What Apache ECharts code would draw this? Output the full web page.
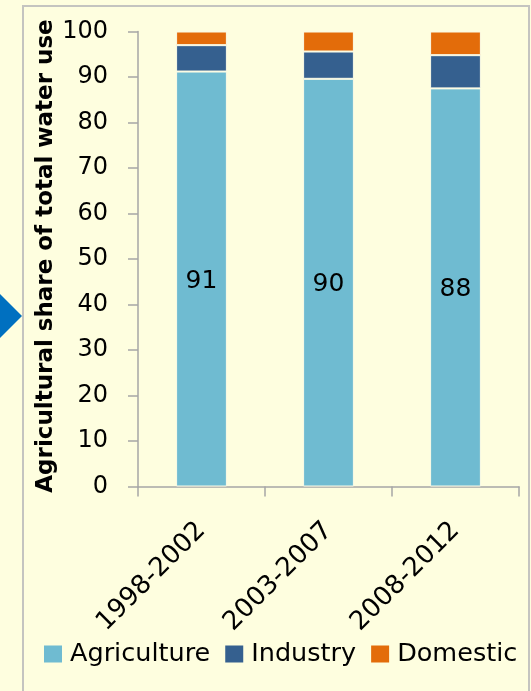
<!DOCTYPE html>
<html>
<head>
<meta charset="utf-8">
<script src="https://cdn.jsdelivr.net/npm/echarts@6/dist/echarts.min.js"></script>
<style>
html,body{margin:0;padding:0;background:#FEFEDF;}
#chart{width:531px;height:691px;}
</style>
</head>
<body>
<div id="chart"></div>
<script>
var categories = ['1998-2002', '2003-2007', '2008-2012'];
var agriculture = [91.2, 89.6, 87.5];
var industry = [5.8, 6.0, 7.3];
var domestic = [3.0, 4.4, 5.2];
var seriesNames = ['Agriculture', 'Industry', 'Domestic'];
var yTicks = { min: 0, max: 100, interval: 10 };
var yTitle = 'Agricultural share of total water use';

var FONT = 'DejaVu Sans';
var colors = ['#6FBBD1', '#35608F', '#E36C0A'];
var chart = echarts.init(document.getElementById('chart'), null, { renderer: 'canvas' });

function barSeries(name, data, color, withLabel) {
  return {
    name: name, type: 'bar', stack: 'total', data: data, barWidth: '40%',
    itemStyle: { color: color, borderColor: '#FBFBE6', borderWidth: 1 },
    label: withLabel ? {
      show: true, position: 'inside', offset: [0, 2], color: '#000', fontFamily: FONT, fontSize: 25,
      formatter: function (p) { return Math.round(p.value); }
    } : { show: false },
    emphasis: { disabled: true }
  };
}

chart.setOption({
  backgroundColor: '#FEFEDF',
  animation: false,
  color: colors,
  grid: { left: 138, right: 12, top: 31.5, bottom: 204.5, containLabel: false },
  graphic: [
    { type: 'rect', shape: { x: 23, y: 6, width: 506, height: 700 },
      style: { fill: 'none', stroke: '#C4C4C0', lineWidth: 2 }, silent: true },
    { type: 'polygon', shape: { points: [[0, 294], [22, 316], [0, 338]] },
      style: { fill: '#0070C0' }, silent: true },
    { type: 'text', x: 46, y: 256, rotation: Math.PI / 2, silent: true,
      style: { text: yTitle, fill: '#000', font: 'bold 23px "DejaVu Sans"',
        textAlign: 'center', textVerticalAlign: 'middle' } }
  ],
  legend: {
    data: seriesNames, left: 39, top: 636, itemWidth: 18, itemHeight: 17, itemGap: 15,
    icon: 'rect',
    itemStyle: { borderWidth: 0 },
    textStyle: { fontFamily: FONT, fontSize: 25.5, color: '#000', padding: [0, 0, 0, 3] }
  },
  xAxis: {
    type: 'category', data: categories,
    axisLine: { lineStyle: { color: '#A6A6A6', width: 1.5 } },
    axisTick: { show: true, length: 10, lineStyle: { color: '#A6A6A6', width: 1.5 } },
    axisLabel: { rotate: 45, margin: 40, color: '#000', fontFamily: FONT, fontSize: 26 }
  },
  yAxis: {
    type: 'value', min: yTicks.min, max: yTicks.max, interval: yTicks.interval,
    axisLine: { show: true, lineStyle: { color: '#A6A6A6', width: 1.5 } },
    axisTick: { show: true, length: 10, lineStyle: { color: '#A6A6A6', width: 1.5 } },
    splitLine: { show: false },
    axisLabel: { margin: 30, color: '#000', fontFamily: FONT, fontSize: 24 }
  },
  series: [
    barSeries(seriesNames[0], agriculture, colors[0], true),
    barSeries(seriesNames[1], industry, colors[1], false),
    barSeries(seriesNames[2], domestic, colors[2], false)
  ]
});
</script>
</body>
</html>
